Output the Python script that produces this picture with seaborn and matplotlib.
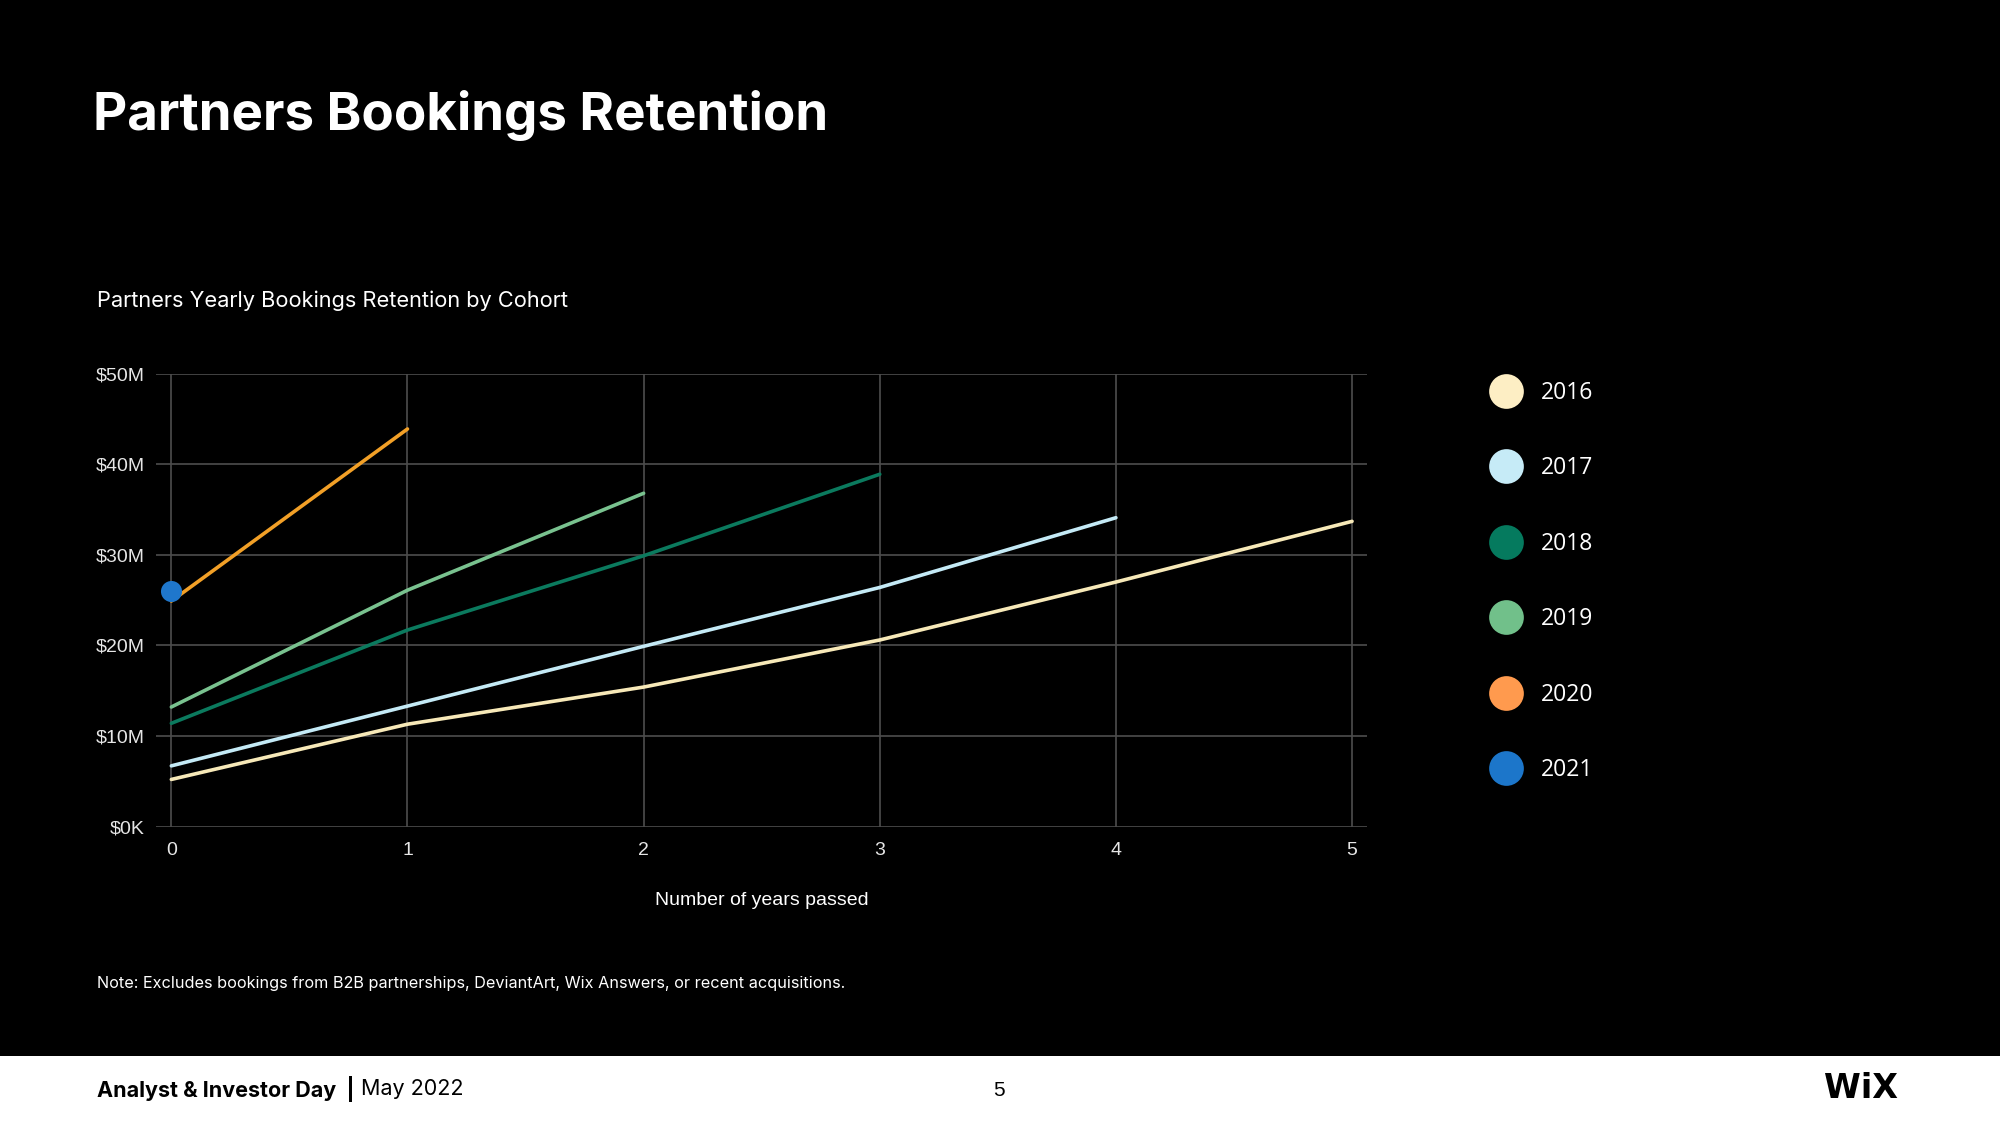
import matplotlib
matplotlib.use("Agg")
import matplotlib.pyplot as plt
import seaborn as sns
import pandas as pd
from matplotlib.lines import Line2D
from matplotlib.patches import Rectangle
from matplotlib.ticker import FuncFormatter

# valores (millones de USD por cohorte y anios transcurridos)
cohorts = ["2016", "2017", "2018", "2019", "2020", "2021"]
v2016 = [5.2, 11.3, 15.4, 20.6, 27.0, 33.7]
v2017 = [6.7, 13.3, 19.9, 26.4, 34.1]
v2018 = [11.4, 21.7, 29.9, 38.9]
v2019 = [13.2, 26.1, 36.8]
v2020 = [24.9, 43.9]
v2021 = [26.0]
y_ticks = [0, 10, 20, 30, 40, 50]
x_ticks = [0, 1, 2, 3, 4, 5]

line_colors = {"2016": "#F7E9B8", "2017": "#C4EAF6", "2018": "#0B7A5E",
               "2019": "#79C28F", "2020": "#F2A027", "2021": "#1F77CC"}
legend_colors = {"2016": "#FDEEC4", "2017": "#C6EBF7", "2018": "#057A5E",
                 "2019": "#71C08A", "2020": "#FF9A4E", "2021": "#1C76CA"}

rows = []
for c, vals in zip(cohorts, [v2016, v2017, v2018, v2019, v2020, v2021]):
    for i, v in enumerate(vals):
        rows.append({"cohort": c, "years": i, "bookings": v})
data = pd.DataFrame(rows)

sns.set_style("dark")
plt.rcParams["font.family"] = ["Inter", "DejaVu Sans"]

fig = plt.figure(figsize=(20, 11.25), dpi=100, facecolor="black")
ax = fig.add_axes([0.078, 0.2653, 0.6057, 0.4025])
ax.set_facecolor("black")

lines = data[data["cohort"] != "2021"]
sns.lineplot(data=lines, x="years", y="bookings", hue="cohort", palette=line_colors,
             linewidth=2.6, legend=False, ax=ax, zorder=3)
sns.scatterplot(data=data[data["cohort"] == "2021"], x="years", y="bookings", hue="cohort",
                palette=line_colors, s=230, linewidth=0, legend=False, ax=ax, zorder=4)

ax.set_xlim(-0.065, 5.065)
ax.set_ylim(0, 50)
ax.set_xticks(x_ticks)
ax.set_yticks(y_ticks)
ax.yaxis.set_major_formatter(FuncFormatter(lambda v, p: "$0K" if v == 0 else f"${int(v)}M"))
ax.grid(True, color="#4d4d4d", linewidth=1.2)
for s in ax.spines.values():
    s.set_visible(False)
ax.tick_params(length=0, colors="#e6e6e6", labelsize=14, pad=8)
ax.tick_params(axis="x", pad=11)
for lab in ax.get_xticklabels() + ax.get_yticklabels():
    lab.set_fontfamily("Liberation Sans")
ax.set_xlabel("Number of years passed", color="white", fontsize=14,
              fontfamily="Liberation Sans", labelpad=24)
ax.set_ylabel("")

# leyenda con circulos
handles = [Line2D([0], [0], marker="o", linestyle="", markersize=25,
                  markerfacecolor=legend_colors[c], markeredgewidth=0) for c in cohorts]
leg = fig.legend(handles, cohorts, loc="upper left", bbox_to_anchor=(0.731, 0.680),
                 frameon=False, labelspacing=2.25, handletextpad=0.55,
                 prop={"family": "Open Sans", "size": 16.5})
for t in leg.get_texts():
    t.set_color("white")

fig.text(0.0465, 0.8975, "Partners Bookings Retention", color="white", fontsize=38,
         fontweight="bold", va="center", ha="left")
fig.text(0.0485, 0.733, "Partners Yearly Bookings Retention by Cohort", color="white",
         fontsize=15.7, va="center", ha="left")
fig.text(0.0485, 0.126, "Note: Excludes bookings from B2B partnerships, DeviantArt, Wix Answers, "
         "or recent acquisitions.", color="white", fontsize=11.7, va="center", ha="left")

# pie de pagina blanco
fig.patches.append(Rectangle((0, 0), 1, 1 - 1056 / 1125, transform=fig.transFigure,
                             facecolor="white", edgecolor="none", zorder=0))
fig.text(0.0485, 0.032, "Analyst & Investor Day  |", color="black", fontsize=15.5,
         fontweight="bold", va="center", ha="left")
fig.text(0.1805, 0.032, "May 2022", color="black", fontsize=15.5, va="center", ha="left")
fig.text(0.4995, 0.031, "5", color="black", fontsize=15, va="center", ha="center",
         fontfamily="Liberation Sans")
fig.text(0.949, 0.032, "WiX", color="black", fontsize=24, fontweight="bold",
         va="center", ha="right", fontfamily="Liberation Sans Narrow")

fig.savefig("out.png", dpi=100, facecolor="black")
